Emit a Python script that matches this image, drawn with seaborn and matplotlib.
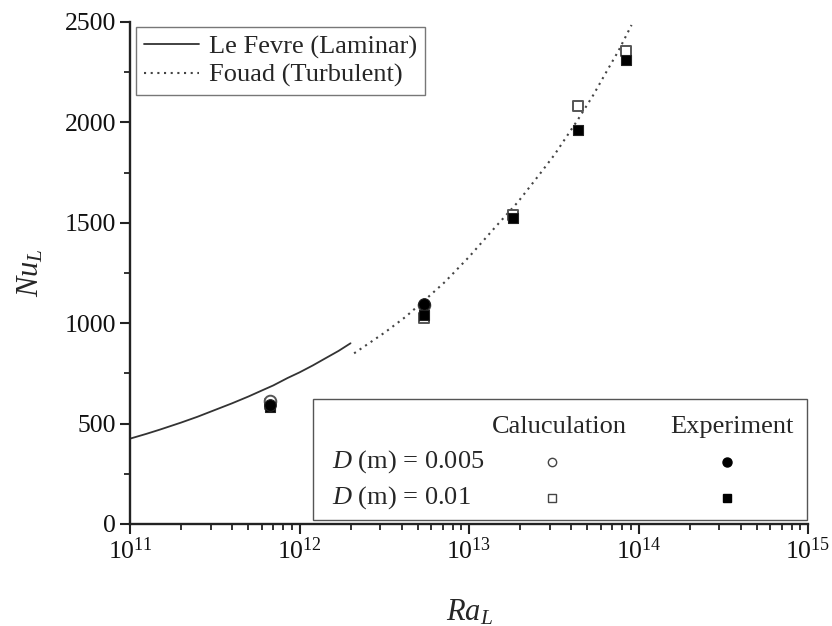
import numpy as np
import pandas as pd
import matplotlib
matplotlib.use("Agg")
import matplotlib.pyplot as plt
import seaborn as sns
from matplotlib.lines import Line2D
from matplotlib.patches import Rectangle
from matplotlib.ticker import MultipleLocator, LogLocator, NullFormatter

# ---------------- data ----------------
laminar_ra = [1e11, 1.25e11, 1.5e11, 2e11, 2.5e11, 3e11, 4e11, 5e11, 6e11, 7e11,
              8.5e11, 1e12, 1.2e12, 1.4e12, 1.7e12, 2e12]
laminar_nu = [425, 449, 470, 505, 534, 560, 601, 635, 665, 690,
              727, 755, 790, 822, 862, 900]

turbulent_ra = [2.1e12, 2.6e12, 3.2e12, 4.2e12, 5.4e12, 7.2e12, 1e13, 1.4e13, 1.95e13,
                2.6e13, 3.2e13, 4.4e13, 5.4e13, 6.3e13, 7.6e13, 9.1e13]
turbulent_nu = [850, 903, 955, 1030, 1110, 1205, 1330, 1470, 1605,
                1740, 1840, 2015, 2135, 2235, 2355, 2485]

ra_d005 = [6.7e11, 5.4e12]
calc_d005 = [612, 1090]
exp_d005 = [592, 1098]

ra_d01 = [6.7e11, 5.4e12, 1.82e13, 4.4e13, 8.4e13]
calc_d01 = [600, 1028, 1538, 2080, 2355]
exp_d01 = [585, 1042, 1522, 1962, 2312]

y_ticks = [0, 500, 1000, 1500, 2000, 2500]

# ---------------- style ----------------
sns.set_style("ticks")
plt.rcParams["font.family"] = ["Liberation Serif", "DejaVu Serif"]
plt.rcParams["mathtext.fontset"] = "custom"
plt.rcParams["mathtext.rm"] = "Liberation Serif"
plt.rcParams["mathtext.it"] = "Liberation Serif:italic"
plt.rcParams["mathtext.bf"] = "Liberation Serif:bold"

FS = 18.5
LFS = 19
fig = plt.figure(figsize=(8.32, 6.26), dpi=100)
ax = fig.add_axes([130 / 832, 1 - 524 / 626, 678 / 832, 502 / 626])

lam = pd.DataFrame({"Ra": laminar_ra, "Nu": laminar_nu})
tur = pd.DataFrame({"Ra": turbulent_ra, "Nu": turbulent_nu})
sns.lineplot(data=lam, x="Ra", y="Nu", ax=ax, color="#333333", lw=1.3,
             linestyle="-", zorder=2)
sns.lineplot(data=tur, x="Ra", y="Nu", ax=ax, color="#444444", lw=1.5,
             linestyle=(0, (1, 2.2)), zorder=2)

d005 = pd.DataFrame({"Ra": ra_d005, "calc": calc_d005, "exp": exp_d005})
d01 = pd.DataFrame({"Ra": ra_d01, "calc": calc_d01, "exp": exp_d01})

sns.scatterplot(data=d01, x="Ra", y="calc", ax=ax, marker="s", s=60,
                facecolor="white", edgecolor="#555555", linewidth=1.4, zorder=3)
sns.scatterplot(data=d005, x="Ra", y="calc", ax=ax, marker="o", s=70,
                facecolor="white", edgecolor="#555555", linewidth=1.4, zorder=3)
sns.scatterplot(data=d01, x="Ra", y="exp", ax=ax, marker="s", s=60,
                color="black", edgecolor="#222222", linewidth=0.8, zorder=4)
sns.scatterplot(data=d005, x="Ra", y="exp", ax=ax, marker="o", s=70,
                color="black", edgecolor="#222222", linewidth=0.8, zorder=5)

ax.set_xscale("log")
ax.set_xlim(1e11, 1e15)
ax.set_ylim(0, 2500)
ax.set_yticks(y_ticks)
ax.yaxis.set_minor_locator(MultipleLocator(250))
ax.xaxis.set_major_locator(LogLocator(base=10, numticks=10))
ax.xaxis.set_minor_locator(LogLocator(base=10, subs=np.arange(2, 10), numticks=20))
ax.xaxis.set_minor_formatter(NullFormatter())

for s in ["top", "right"]:
    ax.spines[s].set_visible(False)
for s in ["left", "bottom"]:
    ax.spines[s].set_linewidth(1.7)
    ax.spines[s].set_color("#222222")

ax.tick_params(axis="both", which="major", direction="out", length=7, width=1.5,
               labelsize=FS, colors="#222222", labelcolor="#111111", pad=3)
ax.tick_params(axis="both", which="minor", direction="out", length=4, width=1.3,
               colors="#222222")

ax.set_xlabel(r"$Ra_L$", fontsize=LFS + 3, labelpad=24)
ax.set_ylabel(r"$Nu_L$", fontsize=LFS + 3, labelpad=14)

# legend 1 (correlations)
handles = [Line2D([], [], color="#333333", lw=1.3, linestyle="-"),
           Line2D([], [], color="#444444", lw=1.5, linestyle=(0, (1, 2.2)))]
leg = ax.legend(handles, ["Le Fevre (Laminar)", "Fouad (Turbulent)"],
                loc="upper left", bbox_to_anchor=(0.009, 0.99), borderaxespad=0,
                fontsize=LFS, frameon=True, fancybox=False, handlelength=2.1,
                handletextpad=0.35, borderpad=0.3, labelspacing=0.18)
leg.get_frame().set_edgecolor("#555555")
leg.get_frame().set_linewidth(1.0)

# legend 2 (data) drawn as a framed table
tr = ax.transAxes
ax.add_patch(Rectangle((0.270, 0.008), 0.7285, 0.241, transform=tr,
                       facecolor="white", edgecolor="#555555", lw=1.0, zorder=6,
                       clip_on=False))
ax.text(0.634, 0.193, "Caluculation", transform=tr, ha="center", va="center",
        fontsize=LFS, zorder=7)
ax.text(0.888, 0.193, "Experiment", transform=tr, ha="center", va="center",
        fontsize=LFS, zorder=7)
ax.text(0.298, 0.1235, r"$D$ (m) = 0.005", transform=tr, ha="left", va="center",
        fontsize=LFS, zorder=7)
ax.text(0.298, 0.0518, r"$D$ (m) = 0.01", transform=tr, ha="left", va="center",
        fontsize=LFS, zorder=7)
ax.plot([0.6224], [0.1235], transform=tr, marker="o", ms=6, mfc="white",
        mec="#444444", mew=1.0, zorder=7, clip_on=False)
ax.plot([0.8805], [0.1235], transform=tr, marker="o", ms=6.5, mfc="black",
        mec="black", zorder=7, clip_on=False)
ax.plot([0.6224], [0.0518], transform=tr, marker="s", ms=5.5, mfc="white",
        mec="#444444", mew=1.0, zorder=7, clip_on=False)
ax.plot([0.8805], [0.0518], transform=tr, marker="s", ms=6, mfc="black",
        mec="black", zorder=7, clip_on=False)

fig.savefig("out.png", dpi=100)
